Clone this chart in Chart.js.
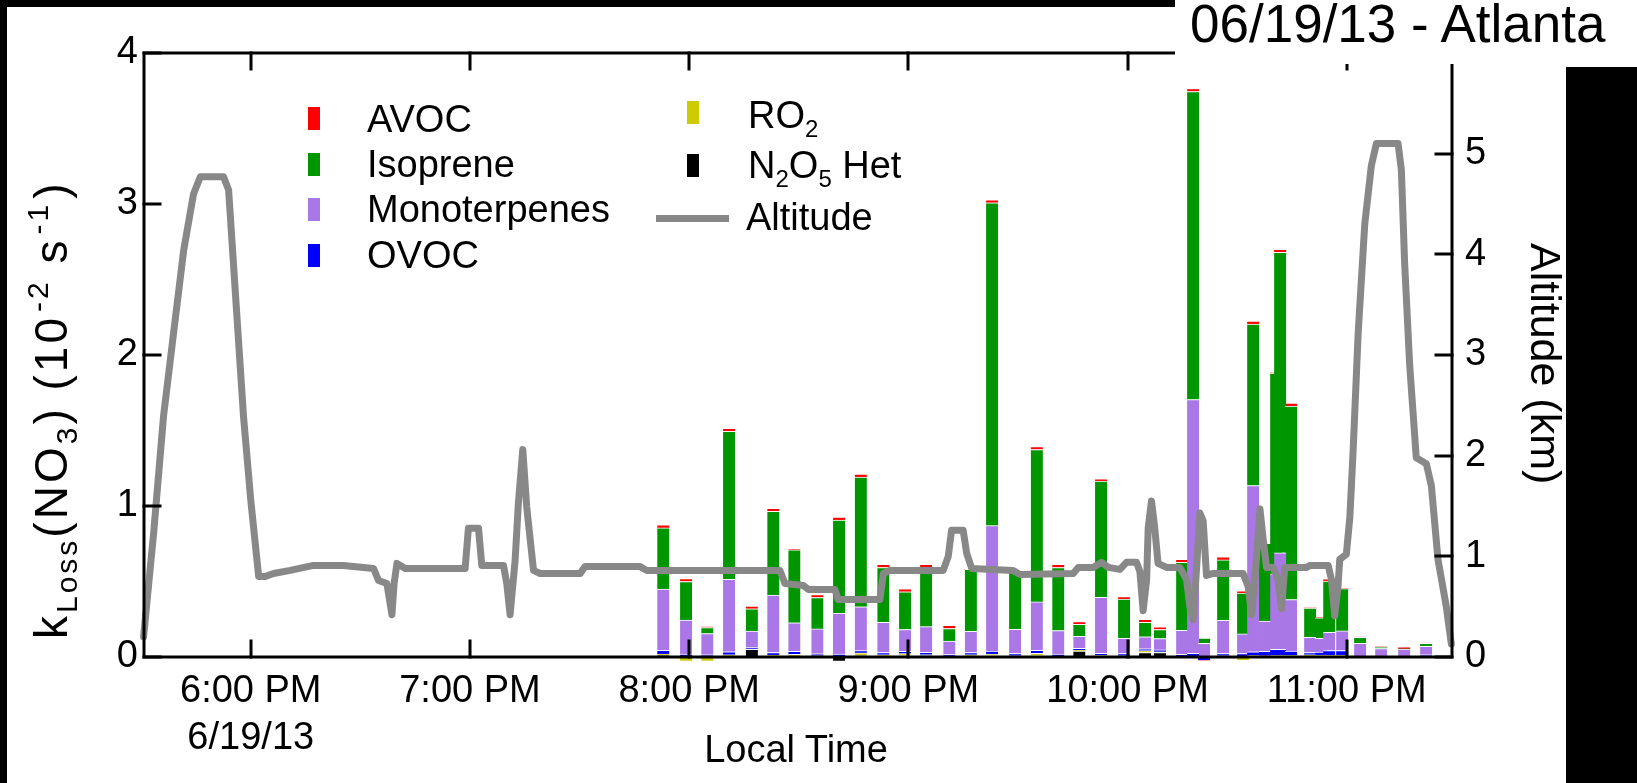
<!DOCTYPE html>
<html><head><meta charset="utf-8">
<script src="https://cdn.jsdelivr.net/npm/chart.js@4.4.1/dist/chart.umd.min.js"></script>
<style>
html,body{margin:0;padding:0;background:#fff;}
#wrap{position:relative;width:1637px;height:783px;overflow:hidden;background:#fff;}
#c{position:absolute;left:0;top:0;}
#ov{position:absolute;left:0;top:0;pointer-events:none;}
#ov text{font-family:'Liberation Sans',Arial,sans-serif;fill:#000;}
</style></head><body>
<div id="wrap">
<canvas id="c" width="1637" height="783"></canvas>
<svg id="ov" width="1637" height="783" viewBox="0 0 1637 783" xmlns="http://www.w3.org/2000/svg">
  <rect x="0" y="0" width="1175" height="7" fill="#000"/>
  <rect x="0" y="0" width="7" height="783" fill="#000"/>
  <rect x="1175" y="0" width="462" height="64" fill="#fff"/>
  <rect x="1566" y="67" width="71" height="716" fill="#000"/>
  <text x="1190" y="42" font-size="53">06/19/13 - Atlanta</text>
  <g id="legend"></g>
  <text id="ytitle" transform="translate(67,639) rotate(-90)" font-size="46" letter-spacing="3">k<tspan font-size="30" dy="10">Loss</tspan><tspan dy="-10">(NO</tspan><tspan font-size="30" dy="10">3</tspan><tspan dy="-10">) (10</tspan><tspan font-size="30" dy="-19" dx="3">-2</tspan><tspan dy="19"> s</tspan><tspan font-size="30" dy="-19" dx="3">-1</tspan><tspan dy="19" dx="3">)</tspan></text>
  <text transform="translate(1531,243) rotate(90)" font-size="43">Altitude (km)</text>
  <text x="796" y="762" font-size="38" text-anchor="middle">Local Time</text>
</svg>
</div>
<script>
// ---- data ----
const barTimes = [19.882,19.986,20.083,20.182,20.286,20.384,20.480,20.585,20.684,20.783,20.886,20.985,21.081,21.187,21.285,21.382,21.487,21.586,21.684,21.780,21.879,21.984,22.080,22.148,22.249,22.299,22.349,22.436,22.527,22.573,22.627,22.678,22.696,22.746,22.833,22.883,22.920,22.979,23.061,23.157,23.262,23.362];
const n2o5Het    = [0.015,0,0,0.005,0.05,0.005,0.005,0.003,-0.025,0.012,0.003,0.01,0.012,0,0.003,0.01,0.003,0.01,0.003,0.04,0.005,0.005,0.03,0.03,0.005,0.005,0,0.003,0.003,0.005,0.003,0.005,0.005,0.005,0.003,0.003,0.003,0.003,0,0,0,0];
const ro2        = [0.005,-0.025,-0.025,0.01,0,0.008,0.012,0.005,0.005,0.015,0.012,0.012,0.003,0.003,0.012,0.01,0.005,0.015,0.003,0.005,0.005,0.003,0.012,0.005,0,0,0,0.005,-0.02,0.005,0.005,0.005,0.005,0.005,0.012,0.01,0.01,0.01,0,0.003,0,0];
const ovoc       = [0.025,0.02,0.015,0.02,0.012,0.017,0.02,0.013,0.015,0.015,0.015,0.015,0.016,0.013,0.015,0.02,0.015,0.02,0.014,0.012,0.015,0.015,0.012,0.012,0.012,0.02,-0.02,0.015,0.02,0.025,0.03,0.04,0.04,0.03,0.015,0.02,0.03,0.03,0.005,0.003,0.003,0.015];
const monoterpenes = [0.405,0.225,0.14,0.48,0.11,0.38,0.19,0.165,0.27,0.29,0.2,0.145,0.17,0.09,0.14,0.83,0.16,0.32,0.155,0.08,0.37,0.1,0.08,0.075,0.16,1.68,0.09,0.22,0.13,1.1,0.2,0.5,0.64,0.34,0.1,0.09,0.12,0.13,0.085,0.05,0.05,0.055];
const isoprene   = [0.405,0.255,0.04,0.98,0.147,0.555,0.483,0.208,0.616,0.86,0.363,0.25,0.392,0.083,0.41,2.138,0.38,1.009,0.418,0.08,0.77,0.26,0.095,0.06,0.45,2.04,0.035,0.4,0.27,1.07,0.515,1.33,1.99,1.281,0.194,0.137,0.34,0.28,0.04,0.01,0,0.02];
const avoc       = [0.02,0.02,0.007,0.02,0.018,0.02,0.006,0.02,0.02,0.02,0.02,0.02,0.02,0.02,0,0.02,0,0.02,0.02,0.018,0.015,0.017,0.02,0.018,0.02,0.02,0,0.02,0.015,0.02,0,0,0.02,0.02,0,0,0.015,0,0.003,0,0.015,0.003];

const altTimes = [17.511,17.557,17.602,17.648,17.694,17.739,17.770,17.876,17.899,17.937,17.967,18.000,18.036,18.066,18.104,18.180,18.286,18.423,18.560,18.583,18.621,18.644,18.654,18.667,18.705,18.978,18.993,19.039,19.054,19.153,19.168,19.183,19.206,19.221,19.241,19.259,19.290,19.320,19.503,19.525,19.776,19.791,19.807,20.414,20.437,20.521,20.544,20.665,20.680,20.870,20.886,20.916,21.159,21.182,21.197,21.250,21.266,21.289,21.478,21.509,21.752,21.775,21.843,21.881,21.912,21.965,21.995,22.041,22.056,22.071,22.087,22.094,22.109,22.124,22.139,22.178,22.238,22.269,22.284,22.299,22.315,22.330,22.345,22.360,22.390,22.527,22.550,22.566,22.585,22.604,22.619,22.634,22.664,22.687,22.702,22.717,22.816,22.831,22.915,22.930,22.945,22.960,22.968,22.998,23.014,23.029,23.052,23.082,23.112,23.135,23.234,23.249,23.264,23.287,23.317,23.363,23.386,23.416,23.454,23.477];
const altKm = [0.20,1.23,2.39,3.22,4.04,4.60,4.77,4.77,4.64,3.38,2.39,1.56,0.80,0.80,0.83,0.86,0.91,0.91,0.88,0.76,0.73,0.42,0.73,0.93,0.88,0.88,1.28,1.28,0.91,0.91,0.73,0.42,0.96,1.53,2.06,1.49,0.86,0.83,0.83,0.90,0.90,0.88,0.86,0.86,0.73,0.71,0.67,0.67,0.57,0.57,0.83,0.86,0.86,1.00,1.26,1.26,1.03,0.88,0.86,0.82,0.83,0.89,0.89,0.94,0.89,0.87,0.94,0.94,0.85,0.46,0.77,1.28,1.55,1.28,0.93,0.89,0.89,0.77,0.50,0.37,0.89,1.43,1.35,0.81,0.83,0.83,0.70,0.42,0.89,1.47,1.16,0.89,0.89,0.77,0.48,0.89,0.89,0.91,0.91,0.77,0.41,0.70,0.97,1.02,1.39,2.05,3.22,4.30,4.88,5.10,5.10,4.84,3.91,2.90,1.98,1.92,1.70,0.97,0.50,0.13];

const hourTicks = [18,19,20,21,22,23];
const hourLabels = [["6:00 PM","6/19/13"],"7:00 PM","8:00 PM","9:00 PM","10:00 PM","11:00 PM"];
const leftTicks = [0,1,2,3,4];
const rightTicks = [0,1,2,3,4,5,6];

const seriesNames = ["N2O5 Het","RO2","OVOC","Monoterpenes","Isoprene","AVOC"];
const seriesColors = ["#000000","#cccc00","#0000ff","#aa77e6","#009600","#ff0000"];
const seriesValues = [n2o5Het, ro2, ovoc, monoterpenes, isoprene, avoc];

// ---- chart ----
const FONT = "'Liberation Sans', Arial, sans-serif";
const W = 1637, H = 783, PL = 144, PR = 1452, PT = 53, PB = 657;

const barSets = seriesValues.map((vals, k) => ({
  type: 'bar',
  label: seriesNames[k],
  data: barTimes.map((t, i) => ({x: t, y: vals[i]})),
  backgroundColor: seriesColors[k],
  borderColor: '#ffffff',
  borderWidth: {top: 1, left: 0, right: 0, bottom: 0},
  borderSkipped: false,
  barThickness: 12,
  yAxisID: 'y',
  order: 1,
  clip: false
}));

const altSet = {
  type: 'line',
  label: 'Altitude',
  data: altTimes.map((t, i) => ({x: t, y: altKm[i]})),
  yAxisID: 'y2',
  borderColor: '#888888',
  borderWidth: 7,
  pointRadius: 0,
  tension: 0,
  borderJoinStyle: 'round',
  borderCapStyle: 'round',
  order: 0,
  clip: false
};

const framePlugin = {
  id: 'frame',
  afterDatasetsDraw(chart) {
    const {ctx, chartArea: a, scales} = chart;
    ctx.save();
    ctx.strokeStyle = '#000';
    ctx.lineWidth = 3;
    ctx.lineCap = 'square';
    ctx.strokeRect(a.left, a.top, a.right - a.left, a.bottom - a.top);
    const L = 16;
    ctx.beginPath();
    hourTicks.forEach(v => {
      const x = Math.round(scales.x.getPixelForValue(v));
      ctx.moveTo(x, a.bottom); ctx.lineTo(x, a.bottom - L);
      ctx.moveTo(x, a.top); ctx.lineTo(x, a.top + L);
    });
    leftTicks.forEach(v => {
      const y = Math.round(scales.y.getPixelForValue(v));
      ctx.moveTo(a.left, y); ctx.lineTo(a.left + L, y);
    });
    rightTicks.forEach(v => {
      const y = Math.round(scales.y2.getPixelForValue(v));
      ctx.moveTo(a.right, y); ctx.lineTo(a.right - L, y);
    });
    ctx.stroke();
    ctx.restore();
  }
};

new Chart(document.getElementById('c'), {
  type: 'bar',
  data: {datasets: [altSet, ...barSets]},
  options: {
    responsive: false,
    animation: false,
    devicePixelRatio: 1,
    layout: {padding: {top: PT, left: 0, right: 0, bottom: 0}},
    plugins: {legend: {display: false}, tooltip: {enabled: false}},
    scales: {
      x: {
        type: 'linear', min: 17.513, max: 23.48, stacked: true, offset: false,
        afterBuildTicks: s => { s.ticks = hourTicks.map(v => ({value: v})); },
        ticks: {
          callback: v => hourLabels[hourTicks.indexOf(v)],
          font: {family: FONT, size: 38, lineHeight: 1.24}, color: '#000',
          padding: 11, maxRotation: 0, autoSkip: false
        },
        grid: {display: false, drawTicks: false, offset: false},
        border: {display: false},
        afterFit: s => { s.height = H - PB; }
      },
      y: {
        position: 'left', min: 0, max: 4, stacked: true,
        afterBuildTicks: s => { s.ticks = leftTicks.map(v => ({value: v})); },
        ticks: {font: {family: FONT, size: 38}, color: '#000', padding: 6},
        grid: {display: false, drawTicks: false},
        border: {display: false},
        afterFit: s => { s.width = PL; }
      },
      y2: {
        position: 'right', min: 0, max: 6,
        afterBuildTicks: s => { s.ticks = rightTicks.map(v => ({value: v})); },
        ticks: {font: {family: FONT, size: 38}, color: '#000', padding: 13},
        grid: {display: false, drawTicks: false},
        border: {display: false},
        afterFit: s => { s.width = W - PR; }
      }
    }
  },
  plugins: [framePlugin]
});

// ---- legend (SVG text) ----
const NS = 'http://www.w3.org/2000/svg';
const lg = document.getElementById('legend');
function el(tag, attrs, parent) {
  const e = document.createElementNS(NS, tag);
  for (const k in attrs) e.setAttribute(k, attrs[k]);
  (parent || lg).appendChild(e);
  return e;
}
function richText(x, y, parts) {
  const t = el('text', {x: x, y: y, 'font-size': 38});
  let shift = 0;
  parts.forEach(p => {
    const ts = document.createElementNS(NS, 'tspan');
    const want = p[1] ? 8.5 : 0;
    ts.setAttribute('dy', want - shift);
    shift = want;
    if (p[1]) ts.setAttribute('font-size', 24);
    ts.textContent = p[0];
    t.appendChild(ts);
  });
}
const legendItems = [
  {color: '#ff0000', sx: 308, sy: 107, tx: 367, ty: 132, parts: [["AVOC"]]},
  {color: '#009600', sx: 308, sy: 153, tx: 367, ty: 177, parts: [["Isoprene"]]},
  {color: '#aa77e6', sx: 308, sy: 198, tx: 367, ty: 222, parts: [["Monoterpenes"]]},
  {color: '#0000ff', sx: 308, sy: 244, tx: 367, ty: 268, parts: [["OVOC"]]},
  {color: '#cccc00', sx: 687, sy: 101, tx: 748, ty: 128, parts: [["RO"],["2",1]]},
  {color: '#000000', sx: 687, sy: 154, tx: 748, ty: 178, parts: [["N"],["2",1],["O"],["5",1],[" Het"]]}
];
legendItems.forEach(it => {
  el('rect', {x: it.sx, y: it.sy, width: 12, height: 23, fill: it.color});
  richText(it.tx, it.ty, it.parts);
});
el('rect', {x: 656, y: 215, width: 73, height: 7, fill: '#888888'});
richText(746, 230, [["Altitude"]]);
</script>
</body></html>
